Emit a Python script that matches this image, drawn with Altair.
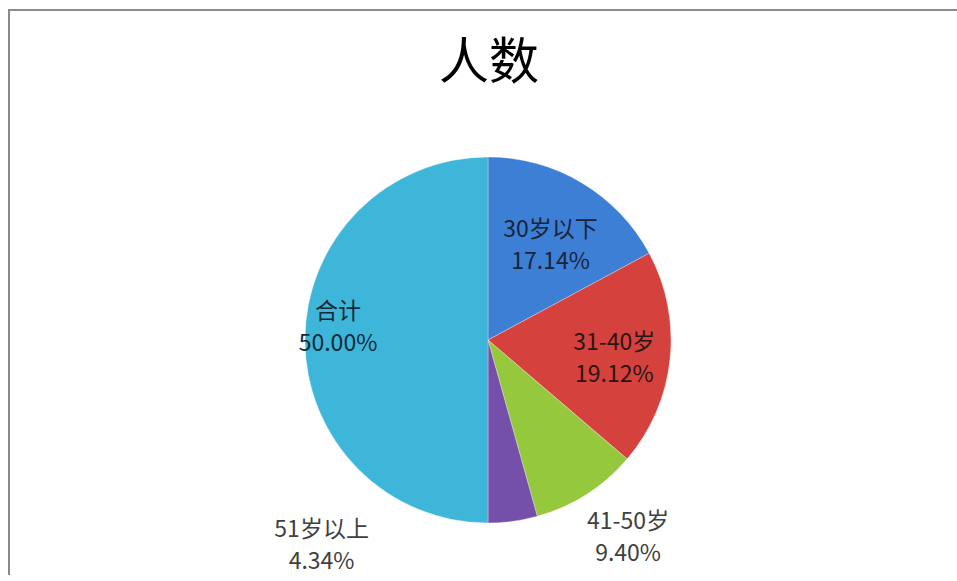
import altair as alt
import pandas as pd

categories = ["30岁以下", "31-40岁", "41-50岁", "51岁以上", "合计"]
values = [17.14, 19.12, 9.40, 4.34, 50.00]
colors = ["#3d7fd4", "#d5423e", "#95c83c", "#7550aa", "#3db6da"]

df = pd.DataFrame({"cat": categories, "v": values, "idx": list(range(len(categories)))})

PAD_L, PAD_T = 9, 10
W, H = 957 - PAD_L, 575 - PAD_T
CX, CY = 488 - PAD_L, 340 - PAD_T
R = 183
FONT = "Noto Sans CJK SC"
theta_scale = alt.Scale(domain=[0, 100])

base = (
    alt.Chart(df)
    .transform_window(cum="sum(v)", sort=[alt.SortField("idx")], frame=[None, 0])
    .transform_calculate(
        start="datum.cum - datum.v",
        mid="datum.cum - datum.v / 2",
        label="datum.cat + '\\n' + format(datum.v, '.2f') + '%'",
    )
)

frame_src = alt.Chart(df).transform_filter("datum.idx == 0")
frame_left = frame_src.mark_rule(color="#8a8a8a", strokeWidth=2).encode(
    x=alt.value(0), y=alt.value(-1), y2=alt.value(H)
)
frame_top = frame_src.mark_rule(color="#8a8a8a", strokeWidth=2).encode(
    x=alt.value(-1), x2=alt.value(W), y=alt.value(0)
)

arcs = base.mark_arc(outerRadius=R, stroke="#ffffff", strokeWidth=0.5, strokeOpacity=0.6).encode(
    theta=alt.Theta("start:Q", scale=theta_scale),
    theta2="cum:Q",
    color=alt.Color("cat:N", scale=alt.Scale(domain=categories, range=colors), legend=None),
    x=alt.value(CX),
    y=alt.value(CY),
)


def label_layer(names, radius, color, dx=0, dy=0):
    return base.transform_filter(
        alt.FieldOneOfPredicate(field="cat", oneOf=names)
    ).mark_text(
        radius=radius, dx=dx, dy=dy, font=FONT, fontSize=23, lineHeight=32,
        lineBreak="\n", align="center", baseline="middle", color=color,
    ).encode(
        theta=alt.Theta("mid:Q", scale=theta_scale),
        text="label:N",
        x=alt.value(CX),
        y=alt.value(CY),
    )


l1 = label_layer(["30岁以下"], 118, "#17243a", dx=2, dy=-9)
l2 = label_layer(["31-40岁"], 127, "#2a1414", dy=-11)
l5 = label_layer(["合计"], 150, "#0f2a36", dy=-28)
l3 = label_layer(["41-50岁"], 240, "#404040", dx=11, dy=-20)
l4 = label_layer(["51岁以上"], 240, "#404040", dx=-199, dy=-48)

chart = (
    alt.layer(frame_left, frame_top, arcs, l1, l2, l5, l3, l4)
    .properties(
        width=W,
        height=H,
        autosize=alt.AutoSizeParams(type="none"),
        padding={"left": PAD_L, "top": PAD_T, "right": 0, "bottom": 0},
        title=alt.TitleParams(
            "人数", font=FONT, fontSize=50, fontWeight="normal", color="#000000",
            anchor="middle", dx=6, dy=85,
        ),
    )
    .configure_view(stroke=None)
)

chart.save("out.html", embed_options={"renderer": "svg", "actions": False})
